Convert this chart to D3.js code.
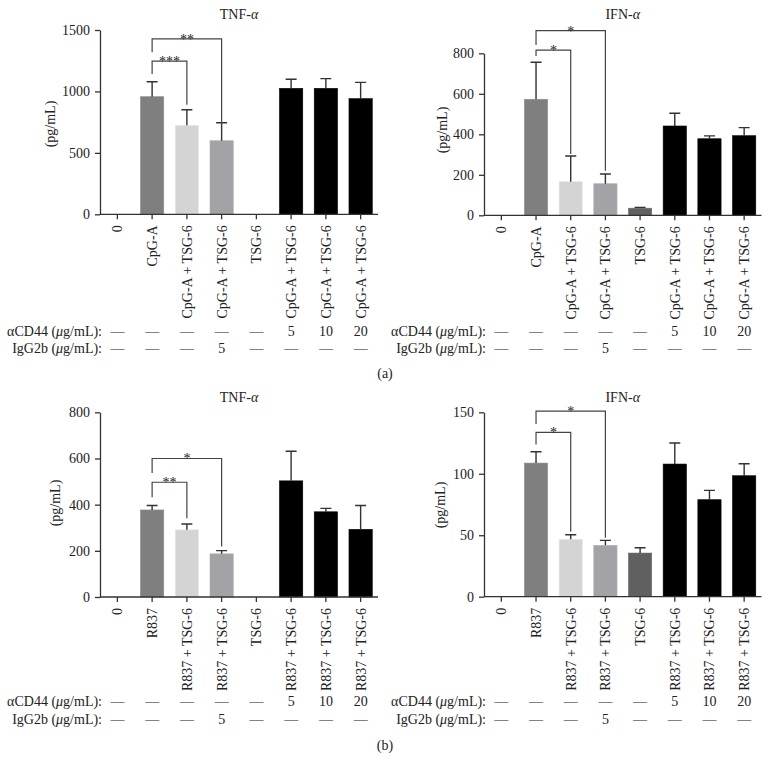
<!DOCTYPE html>
<html>
<head>
<meta charset="utf-8">
<script src="https://cdn.jsdelivr.net/npm/d3@7"></script>
<style>
  body { margin: 0; background: #fff; }
  text { font-family: "Liberation Serif", "DejaVu Serif", serif; fill: #222; }
</style>
</head>
<body>
<svg id="chart" width="770" height="771"></svg>
<script>
// ---------- DATA ----------
const categoriesA = ["0", "CpG-A", "CpG-A + TSG-6", "CpG-A + TSG-6", "TSG-6", "CpG-A + TSG-6", "CpG-A + TSG-6", "CpG-A + TSG-6"];
const categoriesB = ["0", "R837", "R837 + TSG-6", "R837 + TSG-6", "TSG-6", "R837 + TSG-6", "R837 + TSG-6", "R837 + TSG-6"];
const cd44Doses = ["—", "—", "—", "—", "—", "5", "10", "20"];
const igg2bDoses = ["—", "—", "—", "5", "—", "—", "—", "—"];

const tnfA = [0, 957, 724, 599, 0, 1025, 1025, 941];
const tnfAErr = [0, 122, 127, 146, 0, 74, 79, 133];
const ifnA = [0, 573, 166, 156, 35, 441, 378, 393];
const ifnAErr = [0, 183, 127, 48, 4, 63, 14, 40];
const tnfB = [0, 377, 291, 187, 0, 503, 369, 293];
const tnfBErr = [0, 19, 25, 14, 0, 128, 15, 103];
const ifnB = [0, 108.7, 46.7, 41.8, 35.5, 107.9, 78.9, 98.4];
const ifnBErr = [0, 9.2, 3.7, 4.0, 4.3, 17.1, 7.6, 9.7];

const ticksTnfA = [0, 500, 1000, 1500];
const ticksIfnA = [0, 200, 400, 600, 800];
const ticksTnfB = [0, 200, 400, 600, 800];
const ticksIfnB = [0, 50, 100, 150];

// significance brackets: [from index, to index, bracket level, left leg end, right leg end, label]
const sigTnfA = [[1, 3, 1427, 1318, 735, "**"], [1, 2, 1247, 1142, 892, "***"]];
const sigIfnA = [[1, 3, 912, 841, 220, "*"], [1, 2, 816, 787, 303, "*"]];
const sigTnfB = [[1, 3, 600, 537, 219, "*"], [1, 2, 497, 432, 341, "**"]];
const sigIfnB = [[1, 3, 151, 140.4, 48, "*"], [1, 2, 133.6, 123.9, 52.8, "*"]];

// ---------- STYLE ----------
const barColors = ["#7f7f7f", "#7f7f7f", "#d4d4d4", "#a2a2a7", "#606060", "#000000", "#000000", "#000000"];
const FS = "14px";
const svg = d3.select("#chart");

function drawPanel(p) {
  const g = svg.append("g");
  const x = d3.scaleBand().domain(d3.range(p.cats.length)).range([p.x0, p.x1])
    .paddingInner(0.33).paddingOuter(0.165);
  const y = d3.scaleLinear().domain([0, p.max]).range([p.y0, p.yTop]);

  // bars
  g.selectAll("rect.bar").data(p.values).join("rect")
    .attr("x", (d, i) => x(i)).attr("width", x.bandwidth())
    .attr("y", d => y(d)).attr("height", d => y(0) - y(d))
    .attr("fill", (d, i) => barColors[i])
    .attr("stroke", (d, i) => i === 0 ? "none" : d3.color(barColors[i]).brighter(0.25))
    .attr("stroke-width", 0.6);

  // error bars (upper only)
  const errs = p.values.map((v, i) => ({ v, e: p.errs[i], i })).filter(d => d.e > 0);
  g.selectAll("path.err").data(errs).join("path")
    .attr("d", d => {
      const cx = x(d.i) + x.bandwidth() / 2;
      return `M${cx},${y(d.v)}V${y(d.v + d.e)}M${cx - 5.5},${y(d.v + d.e)}H${cx + 5.5}`;
    })
    .attr("stroke", "#333").attr("stroke-width", 1.4).attr("fill", "none");

  // y axis
  const ya = g.append("g").attr("transform", `translate(${p.x0},0)`)
    .call(d3.axisLeft(y).tickValues(p.ticks).tickFormat(d3.format("d"))
      .tickSize(5).tickPadding(5).tickSizeOuter(0));
  ya.select(".domain").attr("stroke", "#333").attr("stroke-width", 1.3);
  ya.selectAll(".tick line").attr("stroke", "#333").attr("stroke-width", 1.3);
  ya.selectAll(".tick text").style("font-family", "Liberation Serif").style("font-size", FS).attr("fill", "#222");

  // x axis
  const xa = g.append("g");
  xa.append("line").attr("x1", p.x0).attr("x2", p.x1).attr("y1", p.y0).attr("y2", p.y0)
    .attr("stroke", "#333").attr("stroke-width", 1.3);
  xa.selectAll("line.tk").data(p.cats).join("line")
    .attr("x1", (d, i) => x(i) + x.bandwidth() / 2).attr("x2", (d, i) => x(i) + x.bandwidth() / 2)
    .attr("y1", p.y0).attr("y2", p.y0 + 5).attr("stroke", "#333").attr("stroke-width", 1.3);
  xa.selectAll("text.lbl").data(p.cats).join("text")
    .attr("transform", (d, i) => `translate(${x(i) + x.bandwidth() / 2},${p.y0 + 11}) rotate(-90)`)
    .attr("text-anchor", "end").attr("dy", "0.35em").style("font-size", FS)
    .text(d => d);

  // title
  const t = g.append("text").attr("x", (p.x0 + p.x1) / 2).attr("y", p.titleY)
    .attr("text-anchor", "middle").style("font-size", FS);
  t.append("tspan").text(p.title + "-");
  t.append("tspan").style("font-style", "italic").text("α");

  // y label
  g.append("text").attr("transform", `translate(${p.ylabX},${p.ylabY}) rotate(-90)`)
    .attr("text-anchor", "middle").attr("dy", "0.35em").style("font-size", FS).text("(pg/mL)");

  // significance brackets
  p.sig.forEach(s => {
    const xl = x(s[0]) + x.bandwidth() / 2, xr = x(s[1]) + x.bandwidth() / 2;
    g.append("path")
      .attr("d", `M${xl},${y(s[3])}V${y(s[2])}H${xr}V${y(s[4])}`)
      .attr("stroke", "#444").attr("stroke-width", 1.2).attr("fill", "none");
    g.append("text").attr("x", (xl + xr) / 2).attr("y", y(s[2]) + 5)
      .attr("text-anchor", "middle").style("font-size", "14px").attr("fill", "#555").text(s[5]);
  });

  // dose table
  const rows = [["CD44", cd44Doses, p.row1Y], ["IgG2b", igg2bDoses, p.row2Y]];
  rows.forEach(r => {
    const lt = g.append("text").attr("x", p.x0 + 2).attr("y", r[2]).attr("text-anchor", "end")
      .style("font-size", FS);
    if (r[0] === "CD44") { lt.append("tspan").text("α"); lt.append("tspan").text("CD44 ("); }
    else lt.append("tspan").text("IgG2b (");
    lt.append("tspan").style("font-style", "italic").text("μ");
    lt.append("tspan").text("g/mL):");
    g.selectAll(null).data(r[1]).join("text")
      .attr("x", (d, i) => x(i) + x.bandwidth() / 2).attr("y", r[2])
      .attr("text-anchor", "middle").style("font-size", FS).text(d => d);
  });
}

drawPanel({ cats: categoriesA, values: tnfA, errs: tnfAErr, ticks: ticksTnfA, max: 1500, sig: sigTnfA,
  x0: 100, x1: 378, y0: 214.3, yTop: 30, title: "TNF", titleY: 19, ylabX: 50, ylabY: 124, row1Y: 335.5, row2Y: 353 });
drawPanel({ cats: categoriesA, values: ifnA, errs: ifnAErr, ticks: ticksIfnA, max: 800, sig: sigIfnA,
  x0: 484, x1: 761.5, y0: 215.3, yTop: 53.3, title: "IFN", titleY: 19, ylabX: 442, ylabY: 130, row1Y: 335.5, row2Y: 353 });
drawPanel({ cats: categoriesB, values: tnfB, errs: tnfBErr, ticks: ticksTnfB, max: 800, sig: sigTnfB,
  x0: 100, x1: 378, y0: 597, yTop: 412.3, title: "TNF", titleY: 402, ylabX: 55, ylabY: 503, row1Y: 706, row2Y: 724 });
drawPanel({ cats: categoriesB, values: ifnB, errs: ifnBErr, ticks: ticksIfnB, max: 150, sig: sigIfnB,
  x0: 484, x1: 761.5, y0: 596.7, yTop: 412.3, title: "IFN", titleY: 402, ylabX: 440, ylabY: 505, row1Y: 706, row2Y: 724 });

svg.append("text").attr("x", 385).attr("y", 378).attr("text-anchor", "middle").style("font-size", FS).text("(a)");
svg.append("text").attr("x", 385).attr("y", 750).attr("text-anchor", "middle").style("font-size", FS).text("(b)");
</script>
</body>
</html>
